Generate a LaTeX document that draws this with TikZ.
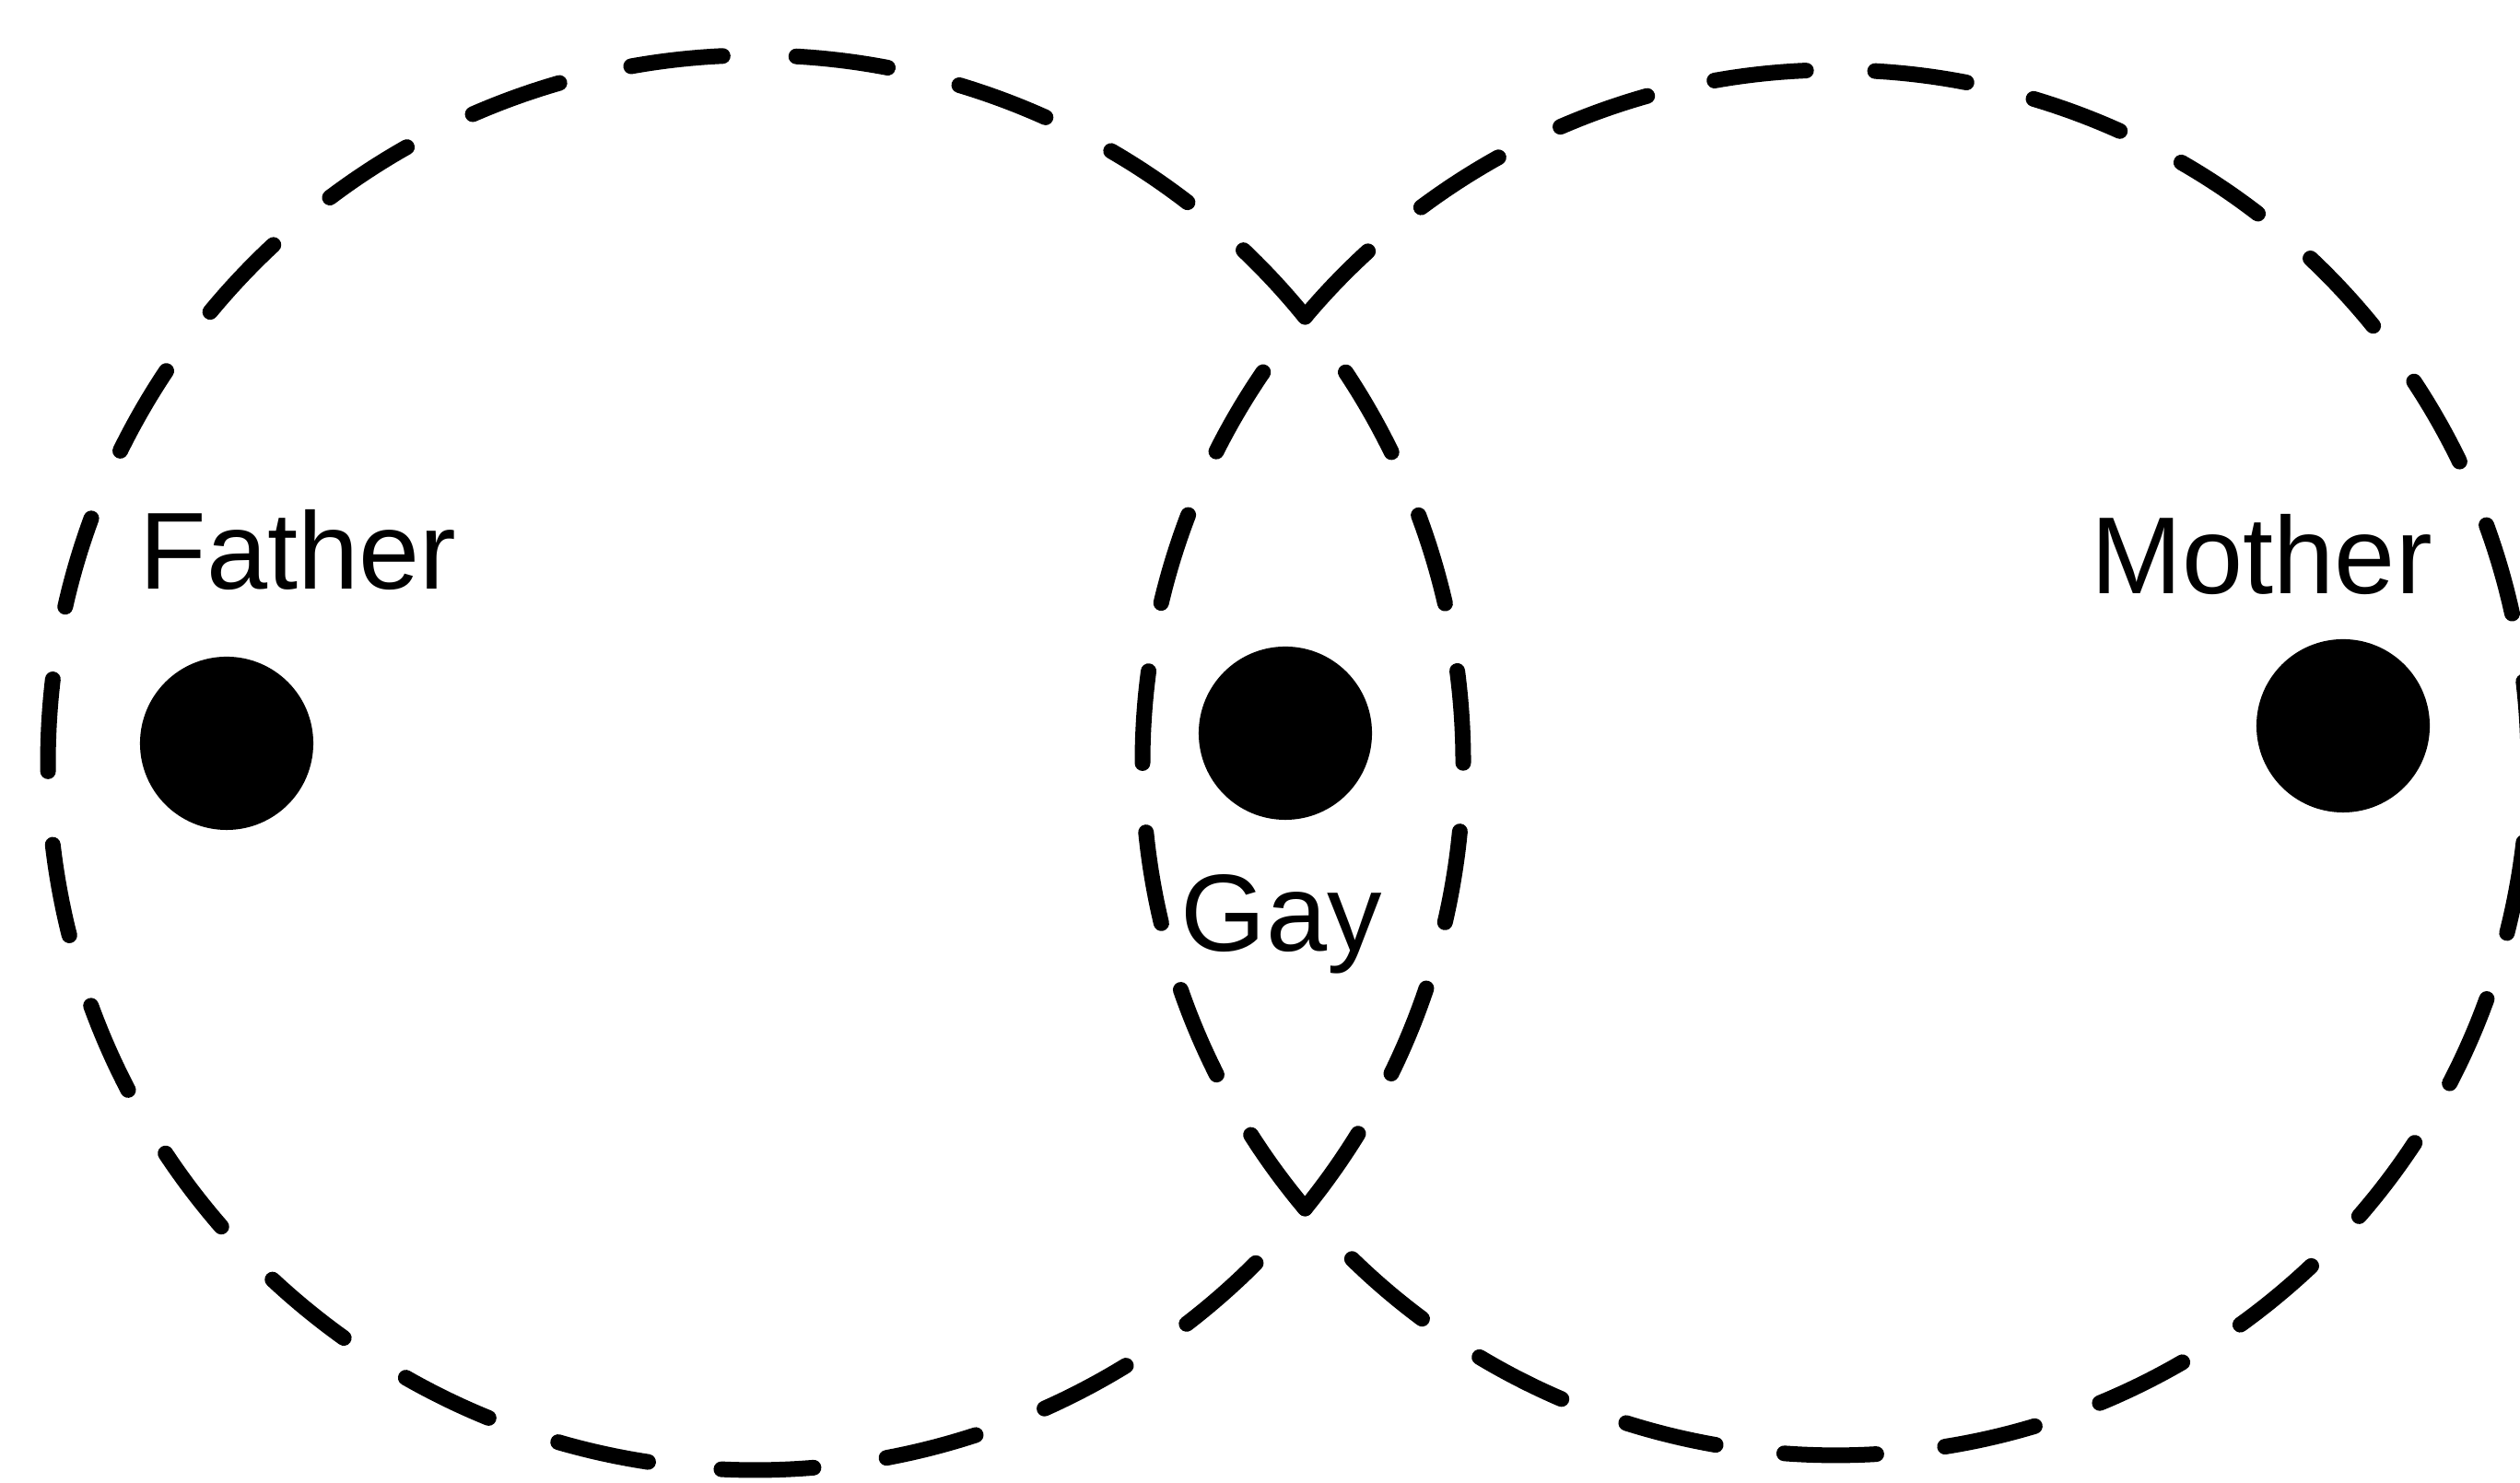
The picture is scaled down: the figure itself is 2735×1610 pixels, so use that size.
\documentclass[tikz,border=0pt]{standalone}
\usepackage{fontspec}
\setmainfont{Liberation Sans}
\begin{document}
\begin{tikzpicture}[x=0.01cm,y=0.01cm,
  ring/.style={line width=0.17cm, line cap=round},
  dot/.style={circle, fill=black, inner sep=0pt, minimum size=1.88cm},
  lbl/.style={anchor=base west, inner sep=0pt, font=\fontsize{33.8pt}{40pt}\selectfont}]
\useasboundingbox (0,0) rectangle (2735,1610);
\coordinate (T) at (1416.4,1265.9);
\coordinate (B) at (1416.4,298.1);
% left circle (Father): inner arc T->B, outer arc B->T
\draw[ring, dash pattern=on 1.00cm off 0.745cm, dash phase=1.00cm]
  (T) arc[start angle=39.06, end angle=-39.06, radius=768];
\draw[ring, dash pattern=on 1.00cm off 0.799cm, dash phase=1.00cm]
  (B) arc[start angle=-39.06, end angle=-320.94, radius=768];
% right circle (Mother): inner arc T->B, outer arc B->T
\draw[ring, dash pattern=on 1.00cm off 0.753cm, dash phase=1.00cm]
  (T) arc[start angle=139.94, end angle=220.06, radius=752];
\draw[ring, dash pattern=on 1.00cm off 0.749cm, dash phase=1.00cm]
  (B) arc[start angle=220.06, end angle=499.94, radius=752];
% dots
\node[dot] (fatherdot) at (246,803) {};
\node[dot] (gaydot) at (1395,814) {};
\node[dot] (motherdot) at (2543,822) {};
% labels
\node[lbl] (father) at (151,970) {Father};
\node[lbl] (mother) at (2269,965) {Mother};
\node[lbl] (gay) at (1281,577) {Gay};
\end{tikzpicture}
\end{document}
